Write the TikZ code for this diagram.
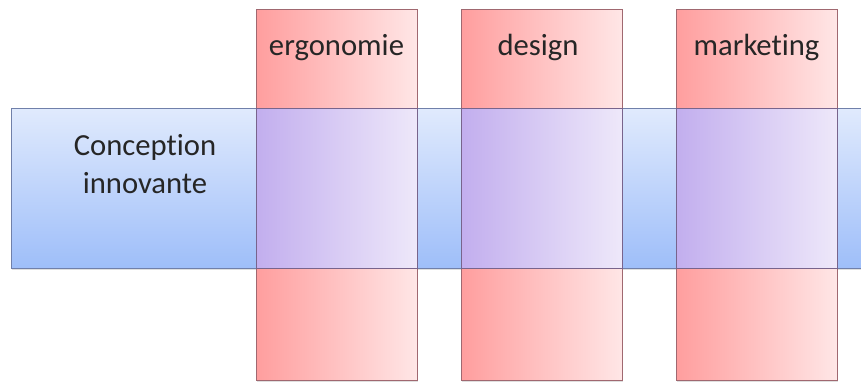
\documentclass[tikz,border=0pt]{standalone}
\usepackage{fontspec}
\setmainfont[Ligatures=NoCommon]{Carlito}
\usetikzlibrary{shadows}
\definecolor{bandTop}{RGB}{224,234,253}
\definecolor{bandBot}{RGB}{158,190,249}
\definecolor{bandLine}{RGB}{112,128,170}
\definecolor{redL}{RGB}{255,158,158}
\definecolor{redR}{RGB}{255,230,230}
\definecolor{redLine}{RGB}{160,104,112}
\definecolor{mixL}{RGB}{194,174,238}
\definecolor{mixR}{RGB}{238,232,250}
\definecolor{mixLine}{RGB}{120,100,140}
\definecolor{txt}{RGB}{38,38,38}
\tikzset{
  shade/.style={drop shadow={opacity=0.25,shadow xshift=1pt,shadow yshift=-1.2pt}},
  label/.style={inner sep=0pt,text=txt,font=\fontsize{23}{28}\selectfont}
}
\begin{document}
\begin{tikzpicture}[x=0.75pt,y=0.75pt,yscale=-1,xscale=1]
\useasboundingbox (0,0) rectangle (861,383);

%Shape: band
\draw [shade,draw=bandLine,top color=bandTop,bottom color=bandBot] (11,108.5) rectangle (866,268.5) ;

%Shape: columns
\foreach \x in {256,461,676}{
  \draw [shade,draw=redLine,left color=redL,right color=redR] (\x,9) rectangle (\x+161,380) ;
}
%Shape: overlaps
\foreach \x in {256,461,676}{
  \draw [draw=mixLine,left color=mixL,right color=mixR] (\x,108.5) rectangle (\x+161,268.5) ;
}

% Text Node
\node [label,align=center] (conc) at (145,164) {Conception\\innovante};
% Text Node
\node [label,anchor=base] (ergo) at (336.5,55) {ergonomie};
% Text Node
\node [label,anchor=base] (desi) at (538,55) {design};
% Text Node
\node [label,anchor=base] (mark) at (756.5,55) {marketing};

\end{tikzpicture}
\end{document}
